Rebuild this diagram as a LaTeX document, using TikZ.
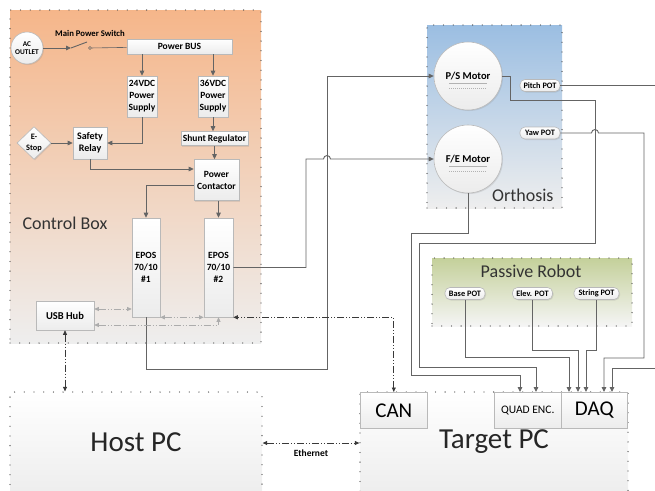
\documentclass[tikz,border=0pt]{standalone}
\usepackage{fontspec}
\setmainfont{Carlito}
\usetikzlibrary{arrows.meta,shapes.geometric,shadows}
\definecolor{boxorange}{RGB}{245,182,138}
\definecolor{boxblue}{RGB}{155,190,226}
\definecolor{boxgreen}{RGB}{196,208,154}
\definecolor{boxgray}{RGB}{238,238,238}
\definecolor{wiregray}{RGB}{100,100,100}
\def\hop{arc[start angle=180,end angle=360,radius=3.5]}
\def\fb{\bfseries\fontsize{9.5}{12}\selectfont}
\tikzset{
  grp/.style={draw=black!70, line width=1.3pt, dash pattern=on 0pt off 9.7pt, line cap=round, inner sep=0pt},
  blk/.style={draw=gray!55, line width=0.6pt, top color=white, bottom color=gray!15, align=center,
    inner sep=1pt, font=\fb, drop shadow={shadow xshift=1pt,shadow yshift=-1pt,opacity=0.2}},
  potbox/.style={blk, rounded corners=5pt, minimum width=40, minimum height=12, inner sep=0.5pt,
    font=\bfseries\fontsize{8.3}{9}\selectfont},
  motor/.style={blk, circle, minimum size=68, inner sep=0pt, font=\bfseries\fontsize{10.5}{12}\selectfont},
  wire/.style={draw=wiregray, line width=0.9pt},
  arr/.style={wire, -{Triangle[length=5pt,width=4.5pt]}},
  comm/.style={draw=gray!65, line width=0.7pt, dash pattern=on 7pt off 2pt on 1pt off 2pt on 1pt off 2pt,
    {Triangle[length=4.5pt,width=4pt]}-{Triangle[length=4.5pt,width=4pt]}},
  biglbl/.style={text=black!80, font=\fontsize{18}{20}\selectfont}
}

\begin{document}
\begin{tikzpicture}[x=1pt,y=-1pt]
\useasboundingbox (0,0) rectangle (655,490);
% groups
\node[grp, top color=boxorange, bottom color=boxgray, minimum width=251, minimum height=333] (ctrl) at (135.5,176.5) {};
\node[grp, top color=boxblue, bottom color=boxgray, minimum width=135, minimum height=183] (orth) at (494.5,116.5) {};
\node[grp, top color=boxgreen, bottom color=boxgray!60, minimum width=200, minimum height=68] (pass) at (532,292) {};
\node[grp, top color=white, bottom color=gray!14, minimum width=252, minimum height=102] (host) at (136,443) {};
\node[grp, top color=white, bottom color=gray!14, minimum width=268, minimum height=102] (target) at (494,443) {};
\node[biglbl, anchor=west] (ctrllbl) at (19,223) {Control Box};
\node[biglbl, anchor=east] (orthlbl) at (557,195) {Orthosis};
\node[biglbl] (passlbl) at (531,271) {Passive Robot};
\node[text=black!85, font=\fontsize{29}{30}\selectfont] (hostlbl) at (136,442) {Host PC};
\node[text=black!85, font=\fontsize{29}{30}\selectfont] (tgtlbl) at (494,442) {Target PC};

% control box
\node[blk, circle, minimum size=32, inner sep=0pt, font=\bfseries\fontsize{7.3}{8.7}\selectfont] (ac) at (27,48) {AC\\OUTLET};
\node[font=\bfseries\fontsize{8.7}{9}\selectfont] (swlbl) at (90,33) {Main Power Switch};
\node[circle, draw=wiregray, line width=0.5pt, inner sep=0pt, minimum size=3] (sw) at (90,48) {};
\coordinate (swa) at (71,48);
\coordinate (swb) at (87,42);
\node[blk, minimum width=105, minimum height=15] (bus) at (179.5,46.5) {Power BUS};
\node[blk, minimum width=30, minimum height=41] (ps24) at (142,96.5) {24VDC\\Power\\Supply};
\node[blk, minimum width=30, minimum height=41] (ps36) at (213,96.5) {36VDC\\Power\\Supply};
\node[blk, minimum width=67, minimum height=14] (shunt) at (214.5,138.5) {Shunt Regulator};
\node[blk, minimum width=34, minimum height=32, font=\bfseries\fontsize{10}{12.5}\selectfont] (relay) at (90,143) {Safety\\Relay};
\node[blk, diamond, minimum width=34, minimum height=30, inner sep=0pt, font=\bfseries\fontsize{8.3}{10.5}\selectfont] (estop) at (34,143) {E-\\Stop};
\node[blk, minimum width=45, minimum height=41] (ctc) at (216.5,180) {Power\\Contactor};
\node[blk, minimum width=28, minimum height=99] (epos1) at (146,267.5) {EPOS\\70/10\\\#1};
\node[blk, minimum width=29, minimum height=99] (epos2) at (218.5,267.5) {EPOS\\70/10\\\#2};
\node[blk, minimum width=58, minimum height=29, font=\bfseries\fontsize{10.5}{12}\selectfont] (usb) at (65,315.5) {USB Hub};

\draw[arr] (ac) -- (swa);
\draw[wire] (swa) -- (swb);
\draw[wire, line width=0.6pt] (sw) -- (bus);
\draw[arr] (bus.south -| ps24.north) -- (ps24.north);
\draw[arr] (bus.south -| ps36.north) -- (ps36.north);
\draw[arr] (ps24.south) |- (relay.east);
\draw[arr] (estop) -- (relay);
\draw[arr] (ps36.south) -- (ps36.south |- shunt.north);
\draw[arr] (shunt.south) -- (shunt.south |- ctc.north);
\draw[arr] (relay.south) |- ([yshift=11pt]ctc.west);
\draw[arr] ([yshift=-5pt]ctc.west) -| (epos1.north);
\draw[arr] (epos2.north |- ctc.south) -- (epos2.north);

% orthosis
\node[motor] (ps) at (468,76) {P/S Motor};
\node[motor] (fe) at (468,159) {F/E Motor};
\draw[gray!60, line width=0.5pt] ([xshift=-19pt,yshift=-7pt]ps.center) -- ([xshift=19pt,yshift=-7pt]ps.center);
\draw[gray!60, line width=0.4pt, dash pattern=on 1pt off 1pt] ([xshift=-19pt,yshift=-12pt]ps.center) -- ([xshift=19pt,yshift=-12pt]ps.center);
\draw[gray!60, line width=0.5pt] ([xshift=-19pt,yshift=-7pt]fe.center) -- ([xshift=19pt,yshift=-7pt]fe.center);
\draw[gray!60, line width=0.4pt, dash pattern=on 1pt off 1pt] ([xshift=-19pt,yshift=-12pt]fe.center) -- ([xshift=19pt,yshift=-12pt]fe.center);
\node[potbox] (pitch) at (540,85.5) {Pitch POT};
\node[potbox] (yaw) at (540,133) {Yaw POT};

% passive robot
\node[potbox] (base) at (465,293.5) {Base POT};
\node[potbox] (elev) at (532.5,293.5) {Elev. POT};
\node[potbox, minimum width=45] (string) at (596.5,293.5) {String POT};

% target pc
\node[blk, anchor=north west, minimum width=67, minimum height=36, font=\fontsize{21}{22}\selectfont] (can) at (360,392) {CAN};
\node[blk, anchor=north west, minimum width=67, minimum height=36, font=\fontsize{11.5}{12}\selectfont] (quad) at (494,392) {QUAD ENC.};
\node[blk, anchor=north west, minimum width=66, minimum height=36, font=\fontsize{21}{22}\selectfont] (daq) at (561,392) {DAQ};

% motor wires
\draw[arr] (epos1.south) |- (327,369) |- (ps.west);
\draw[arr] (epos2.east) -- (306,267.5) |- (323.5,159) \hop -- (fe.west);
\draw[arr] (ps.east) -- (510,76) -- (510,100) -- (595,100) -- (595,243) -- (419,243) -- (419,367) -- (536,367) -- (536,367 |- quad.north);
\draw[arr] (fe.south) -- (468,233) -- (411,233) -- (411,375) -- (520,375) -- (520,375 |- quad.north);
\draw[arr] (pitch.east) -- (665,85.5) -- (665,368) -- (612,368) -- (612,368 |- daq.north);
\draw[arr] (yaw.east) -- (591.5,133) \hop -- (644,133) -- (644,358) -- (604,358) -- (604,358 |- daq.north);
\draw[arr] (base.south) |- (569,357) -- (569,357 |- daq.north);
\draw[arr] (elev.south) |- (578,350) -- (578,350 |- daq.north);
\draw[arr] (string.south) |- (586,350) -- (586,350 |- daq.north);

% communication
\draw[comm] ([yshift=6.5pt]usb.east) -- ([yshift=6.5pt]usb.east -| epos1.west);
\draw[comm] (epos1.south east) -- (epos2.south west);
\draw[comm] ([yshift=-9.5pt]usb.east) -| (epos2.south);
\draw[comm, draw=gray!45!black] (can.north) |- (epos2.south east);
\draw[comm, draw=gray!45!black] (usb.south) -- (usb.south |- host.north);
\draw[comm, draw=gray!45!black] (host.east) -- (target.west)
  node[midway, below=3pt, font=\bfseries\fontsize{9.5}{10}\selectfont] (eth) {Ethernet};
\end{tikzpicture}
\end{document}
